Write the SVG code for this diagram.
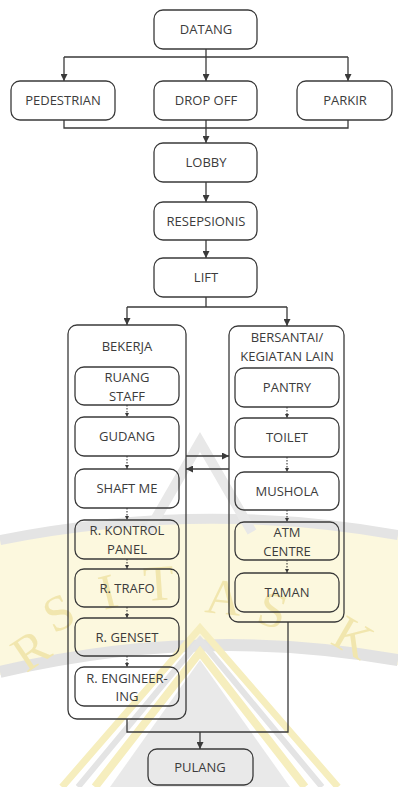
<svg xmlns="http://www.w3.org/2000/svg" width="398" height="787" viewBox="0 0 398 787">
  <style>
    .box { fill: none; stroke: #3a3a3a; stroke-width: 1.3; }
    .wire { fill: none; stroke: #3a3a3a; stroke-width: 1.3; }
    .dot { fill: none; stroke: #3a3a3a; stroke-width: 1.1; stroke-dasharray: 1.5 1.5; }
    .lbl { font-family: "Open Sans", "Liberation Sans", sans-serif; font-size: 13px; fill: #3c3c3c; text-anchor: middle; }
    .wm { font-family: "Liberation Serif", serif; font-size: 50px; fill: #f1e6ae; text-anchor: middle; }
  </style>
  <defs>
    <marker id="arrow" viewBox="0 0 10 10" refX="10" refY="5" markerWidth="7" markerHeight="7" markerUnits="userSpaceOnUse" orient="auto">
      <path d="M0,0 L10,5 L0,10 Z" fill="#3a3a3a"/>
    </marker>
    <marker id="tiny" viewBox="0 0 10 10" refX="10" refY="5" markerWidth="4" markerHeight="4" markerUnits="userSpaceOnUse" orient="auto">
      <path d="M0,0 L10,5 L0,10 Z" fill="#3a3a3a"/>
    </marker>
  </defs>

  <rect x="0" y="0" width="398" height="787" fill="#ffffff"/>

  <!-- background emblem -->
  <g id="emblem">
    <path d="M0,540 Q200,500 398,535 L398,665 Q200,625 0,675 Z" fill="#fcf8de"/>
    <path d="M0,540 Q200,500 398,535" fill="none" stroke="#e4e4e4" stroke-width="10"/>
    <path d="M0,672 Q200,625 398,660" fill="none" stroke="#e2e2e2" stroke-width="12"/>
    <polyline points="148,532 200,442 252,532" fill="none" stroke="#e8e8e8" stroke-width="10"/>
    <path d="M200,660 L110,787 L290,787 Z" fill="#e9e9e9"/>
    <polyline points="95,787 200,652 305,787" fill="none" stroke="#f6eebe" stroke-width="8"/>
    <polyline points="78,787 200,640 322,787" fill="none" stroke="#e4e4e4" stroke-width="6"/>
    <polyline points="62,787 200,628 338,787" fill="none" stroke="#f6eebe" stroke-width="7"/>
    <text class="wm" transform="translate(40,664) rotate(-34)">R</text>
    <text class="wm" transform="translate(66,628) rotate(-26)">S</text>
    <text class="wm" transform="translate(112,608) rotate(-14)">I</text>
    <text class="wm" transform="translate(160,600) rotate(-4)">T</text>
    <text class="wm" transform="translate(222,614) rotate(6)">A</text>
    <text class="wm" transform="translate(268,626) rotate(16)">S</text>
    <text class="wm" transform="translate(345,652) rotate(30)">K</text>
  </g>

  <!-- connectors -->
  <g id="connectors">
    <path class="wire" d="M206,49 V57 M64,57 H348"/>
    <path class="wire" d="M64,57 V81" marker-end="url(#arrow)"/>
    <path class="wire" d="M206,57 V81" marker-end="url(#arrow)"/>
    <path class="wire" d="M348,57 V81" marker-end="url(#arrow)"/>
    <path class="wire" d="M64,120 V128 H348 V120"/>
    <path class="wire" d="M206,120 V143" marker-end="url(#arrow)"/>
    <path class="wire" d="M206,182 V202" marker-end="url(#arrow)"/>
    <path class="wire" d="M206,240 V258" marker-end="url(#arrow)"/>
    <path class="wire" d="M206,297 V307 M127,307 H287"/>
    <path class="wire" d="M127,307 V325" marker-end="url(#arrow)"/>
    <path class="wire" d="M287,307 V326" marker-end="url(#arrow)"/>
    <path class="wire" d="M186,456 H229" marker-end="url(#arrow)"/>
    <path class="wire" d="M229,469 H186" marker-end="url(#arrow)"/>
    <path class="wire" d="M127,719 V732 H288 V622"/>
    <path class="wire" d="M200,732 V749" marker-end="url(#arrow)"/>
    <!-- links between stacked rooms -->
    <path class="dot" d="M127,405 V417" marker-end="url(#tiny)"/>
    <path class="dot" d="M127,456 V469" marker-end="url(#tiny)"/>
    <path class="dot" d="M127,508 V520" marker-end="url(#tiny)"/>
    <path class="dot" d="M127,559 V569" marker-end="url(#tiny)"/>
    <path class="dot" d="M127,607 V618" marker-end="url(#tiny)"/>
    <path class="dot" d="M127,656 V667" marker-end="url(#tiny)"/>
    <path class="dot" d="M287,407 V418" marker-end="url(#tiny)"/>
    <path class="dot" d="M287,457 V472" marker-end="url(#tiny)"/>
    <path class="dot" d="M287,510 V522" marker-end="url(#tiny)"/>
    <path class="dot" d="M287,560 V573" marker-end="url(#tiny)"/>
  </g>

  <g id="datang"><rect class="box" x="154" y="10" width="103" height="39" rx="9"/><text class="lbl" x="206" y="34">DATANG</text></g>
  <g id="pedestrian"><rect class="box" x="11" y="81" width="104" height="39" rx="9"/><text class="lbl" x="63" y="105">PEDESTRIAN</text></g>
  <g id="drop-off"><rect class="box" x="154" y="81" width="103" height="39" rx="9"/><text class="lbl" x="206" y="105">DROP OFF</text></g>
  <g id="parkir"><rect class="box" x="297" y="81" width="95" height="39" rx="9"/><text class="lbl" x="345" y="105">PARKIR</text></g>
  <g id="lobby"><rect class="box" x="154" y="143" width="103" height="39" rx="9"/><text class="lbl" x="206" y="167">LOBBY</text></g>
  <g id="resepsionis"><rect class="box" x="154" y="202" width="103" height="38" rx="9"/><text class="lbl" x="206" y="226">RESEPSIONIS</text></g>
  <g id="lift"><rect class="box" x="154" y="258" width="103" height="39" rx="9"/><text class="lbl" x="206" y="282">LIFT</text></g>

  <g id="bekerja">
    <rect class="box" x="68" y="325" width="118" height="394" rx="9"/>
    <text class="lbl" x="127" y="351">BEKERJA</text>
  </g>
  <g id="ruang-staff"><rect class="box" x="75" y="367" width="104" height="38" rx="9"/><text class="lbl" x="127" y="382">RUANG</text><text class="lbl" x="127" y="401">STAFF</text></g>
  <g id="gudang"><rect class="box" x="75" y="417" width="104" height="39" rx="9"/><text class="lbl" x="127" y="441">GUDANG</text></g>
  <g id="shaft-me"><rect class="box" x="75" y="469" width="104" height="39" rx="9"/><text class="lbl" x="127" y="493">SHAFT ME</text></g>
  <g id="r-kontrol-panel"><rect class="box" x="75" y="520" width="104" height="39" rx="9"/><text class="lbl" x="127" y="535">R. KONTROL</text><text class="lbl" x="127" y="554">PANEL</text></g>
  <g id="r-trafo"><rect class="box" x="75" y="569" width="104" height="38" rx="9"/><text class="lbl" x="127" y="593">R. TRAFO</text></g>
  <g id="r-genset"><rect class="box" x="75" y="618" width="104" height="38" rx="9"/><text class="lbl" x="127" y="642">R. GENSET</text></g>
  <g id="r-engineering"><rect class="box" x="75" y="667" width="104" height="39" rx="9"/><text class="lbl" x="127" y="683">R. ENGINEER-</text><text class="lbl" x="127" y="701">ING</text></g>

  <g id="bersantai">
    <rect class="box" x="229" y="326" width="115" height="296" rx="9"/>
    <text class="lbl" x="287" y="342">BERSANTAI/</text>
    <text class="lbl" x="287" y="361">KEGIATAN LAIN</text>
  </g>
  <g id="pantry"><rect class="box" x="235" y="368" width="104" height="39" rx="9"/><text class="lbl" x="287" y="392">PANTRY</text></g>
  <g id="toilet"><rect class="box" x="235" y="418" width="104" height="39" rx="9"/><text class="lbl" x="287" y="442">TOILET</text></g>
  <g id="mushola"><rect class="box" x="235" y="472" width="104" height="38" rx="9"/><text class="lbl" x="287" y="496">MUSHOLA</text></g>
  <g id="atm-centre"><rect class="box" x="235" y="522" width="104" height="38" rx="9"/><text class="lbl" x="287" y="537">ATM</text><text class="lbl" x="287" y="556">CENTRE</text></g>
  <g id="taman"><rect class="box" x="235" y="573" width="104" height="39" rx="9"/><text class="lbl" x="287" y="597">TAMAN</text></g>

  <g id="pulang"><rect class="box" x="148" y="749" width="105" height="36" rx="9"/><text class="lbl" x="200" y="772">PULANG</text></g>
</svg>
